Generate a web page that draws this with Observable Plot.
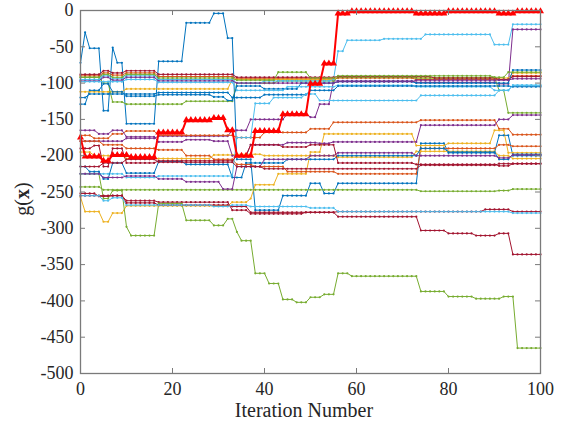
<!DOCTYPE html>
<html><head><meta charset="utf-8">
<script src="https://cdn.jsdelivr.net/npm/d3@7"></script>
<script src="https://cdn.jsdelivr.net/npm/@observablehq/plot@0.6"></script>
<style>body{margin:0;background:#fff}</style>
</head><body><div id="chart"></div>
<script>
// tick labels
const xTicks = [0, 20, 40, 60, 80, 100];
const yTicks = [-500, -450, -400, -350, -300, -250, -200, -150, -100, -50, 0];

// series as [iteration at which value starts, value] (value held until next entry)
const best     = [[0,-175],[1,-201],[5,-207],[7,-199],[11,-202],[17,-168],[23,-151],[29,-148],[32,-165],[34,-200],[38,-166],[44,-143],[50,-101],[53,-73],[56,-4],[59,-1],[73,-4],[80,-1],[91,-4],[95,-1]];
const blueA    = [[0,-72],[1,-30],[2,-52],[5,-138],[7,-51],[8,-72],[10,-156],[17,-70],[23,-17],[29,-4],[32,-38],[34,-205],[38,-275],[44,-255],[50,-238],[53,-252],[56,-238],[74,-183],[80,-196],[91,-172],[94,-200]];
const blueB    = [[0,-129],[2,-110],[5,-101],[7,-112],[10,-118],[17,-116],[29,-119],[32,-124],[34,-104],[40,-108],[48,-100],[56,-98],[73,-100],[94,-82]];
const blueC    = [[0,-120],[2,-115],[17,-113],[33,-120],[40,-116],[50,-110],[56,-104],[94,-105]];
const blueD    = [[0,-215],[2,-222],[5,-232],[7,-210],[10,-224],[17,-208],[23,-212],[33,-230],[36,-210],[45,-205],[56,-200],[74,-190],[80,-195],[91,-205],[94,-198]];
const lightA   = [[0,-95],[5,-90],[7,-94],[10,-90],[17,-95],[34,-100],[40,-97],[55,-95],[56,-56],[58,-41],[66,-39],[75,-33],[90,-47],[94,-19]];
const lightB   = [[0,-98],[10,-95],[17,-99],[34,-110],[45,-105],[56,-103],[73,-105],[90,-110],[94,-103]];
const lightC   = [[0,-225],[10,-230],[17,-228],[34,-175],[38,-128],[42,-120],[49,-115],[52,-124],[74,-117],[91,-110],[94,-103]];
const lightD   = [[0,-255],[5,-262],[7,-258],[10,-268],[29,-270],[33,-268],[37,-270],[50,-272],[56,-277],[94,-279]];
const purpleA  = [[0,-180],[10,-176],[17,-173],[33,-165],[37,-150],[45,-142],[50,-147],[52,-129],[55,-97],[73,-99],[91,-101],[94,-26]];
const purpleB  = [[0,-97],[5,-92],[7,-96],[10,-92],[17,-97],[34,-100],[56,-98],[73,-96],[94,-94]];
const purpleC  = [[0,-165],[4,-170],[7,-165],[10,-174],[17,-181],[23,-178],[29,-180],[33,-200],[37,-185],[45,-182],[52,-183],[55,-181],[74,-158],[91,-150],[94,-144]];
const purpleD  = [[0,-225],[5,-230],[10,-228],[17,-232],[23,-236],[31,-246],[34,-215],[40,-205],[50,-200],[56,-196],[73,-200],[91,-203],[94,-199]];
const dredA    = [[0,-88],[5,-83],[7,-86],[10,-83],[17,-88],[34,-92],[56,-91],[77,-93],[91,-95],[94,-91]];
const dredB    = [[0,-252],[4,-256],[7,-255],[10,-262],[17,-264],[33,-275],[37,-280],[49,-278],[56,-284],[74,-303],[80,-307],[86,-310],[91,-307],[94,-336]];
const dredC    = [[0,-255],[10,-265],[17,-268],[33,-270],[37,-278],[56,-277],[88,-274],[94,-277]];
const dredD    = [[0,-215],[5,-210],[10,-205],[17,-209],[34,-215],[40,-218],[56,-218],[74,-213],[91,-211]];
const dredE    = [[0,-190],[3,-186],[5,-215],[7,-190],[10,-210],[17,-207],[34,-200],[37,-185],[44,-188],[50,-185],[56,-210],[73,-212],[91,-214],[94,-211]];
const orangeA  = [[0,-90],[5,-86],[7,-89],[10,-86],[17,-91],[34,-94],[56,-93],[73,-95],[94,-90]];
const orangeB  = [[0,-172],[3,-176],[7,-170],[10,-166],[17,-172],[34,-175],[40,-168],[50,-163],[55,-154],[74,-151],[91,-163],[94,-171]];
const orangeC  = [[0,-180],[5,-185],[10,-190],[17,-192],[23,-200],[29,-205],[34,-212],[38,-215],[45,-222],[56,-225],[74,-190],[91,-185],[94,-187]];
const yellowA  = [[0,-112],[10,-108],[33,-95],[56,-92],[73,-93],[94,-86]];
const yellowB  = [[0,-257],[1,-277],[5,-291],[7,-279],[10,-269],[33,-264],[37,-259],[38,-240],[43,-225],[50,-195],[53,-170],[73,-186],[80,-183],[90,-165],[93,-196]];
const yellowC  = [[0,-195],[3,-200],[10,-204],[29,-199],[34,-198],[40,-200],[56,-202],[73,-194],[91,-200],[94,-204]];
const greenA   = [[0,-92],[5,-100],[7,-126],[10,-129],[23,-125],[34,-100],[43,-97],[56,-92],[73,-93],[90,-92],[91,-110],[93,-141]];
const greenB   = [[0,-243],[5,-247],[74,-249],[91,-248],[94,-246]];
const greenC   = [[0,-225],[5,-259],[7,-248],[10,-298],[11,-310],[17,-266],[23,-289],[29,-296],[32,-287],[34,-305],[35,-317],[38,-362],[41,-376],[44,-398],[47,-402],[50,-395],[53,-391],[56,-362],[59,-366],[74,-387],[80,-394],[86,-397],[92,-394],[95,-465]];
const greenD   = [[0,-92],[5,-88],[7,-92],[10,-88],[17,-93],[34,-96],[43,-85],[50,-93],[56,-90],[90,-92],[93,-85]];

const palette = {blue:"#0072BD", orange:"#D95319", yellow:"#EDB120", purple:"#7E2F8E", green:"#77AC30", light:"#4DBEEE", dred:"#A2142F"};

const seriesList = [
  ["blueA", blueA, palette.blue], ["orangeA", orangeA, palette.orange], ["yellowA", yellowA, palette.yellow],
  ["purpleA", purpleA, palette.purple], ["greenA", greenA, palette.green], ["lightA", lightA, palette.light],
  ["dredA", dredA, palette.dred], ["blueB", blueB, palette.blue], ["orangeB", orangeB, palette.orange],
  ["yellowB", yellowB, palette.yellow], ["purpleB", purpleB, palette.purple], ["greenB", greenB, palette.green],
  ["lightB", lightB, palette.light], ["dredB", dredB, palette.dred], ["blueC", blueC, palette.blue],
  ["orangeC", orangeC, palette.orange], ["yellowC", yellowC, palette.yellow], ["purpleC", purpleC, palette.purple],
  ["greenC", greenC, palette.green], ["lightC", lightC, palette.light], ["dredC", dredC, palette.dred],
  ["blueD", blueD, palette.blue], ["purpleD", purpleD, palette.purple], ["greenD", greenD, palette.green],
  ["lightD", lightD, palette.light], ["dredD", dredD, palette.dred], ["dredE", dredE, palette.dred]
];

function expand(bp) {
  const out = []; let k = 0;
  for (let i = 0; i <= 100; i++) {
    while (k + 1 < bp.length && bp[k + 1][0] <= i) k++;
    out.push({x: i, y: bp[k][1]});
  }
  return out;
}

const rows = seriesList.flatMap(([name, bp, color]) => expand(bp).map(d => ({...d, series: name, color})));
const bestRows = expand(best);

const chart = Plot.plot({
  width: 571, height: 425,
  marginLeft: 80, marginRight: 31, marginTop: 10, marginBottom: 52,
  style: {fontFamily: "'Liberation Serif', 'Times New Roman', serif", fontSize: "18px", color: "#262626", background: "#fff"},
  x: {domain: [0, 100]},
  y: {domain: [-500, 0]},
  color: {type: "identity"},
  marks: [
    Plot.line(rows, {x: "x", y: "y", z: "series", stroke: "color", strokeWidth: 1}),
    Plot.dot(rows, {x: "x", y: "y", fill: "color", r: 1.1}),
    Plot.line(bestRows, {x: "x", y: "y", stroke: "#FF0000", strokeWidth: 2}),
    Plot.dot(bestRows, {x: "x", y: "y", symbol: "triangle", fill: "#FF0000", r: 2.6}),
    Plot.frame({stroke: "#7a7a7a", strokeWidth: 1.3}),
    Plot.tickX(xTicks, {x: d => d, insetTop: 358, stroke: "#7a7a7a"}),
    Plot.tickX(xTicks, {x: d => d, insetBottom: 358, stroke: "#7a7a7a"}),
    Plot.tickY(yTicks, {y: d => d, insetRight: 455, stroke: "#7a7a7a"}),
    Plot.tickY(yTicks, {y: d => d, insetLeft: 455, stroke: "#7a7a7a"}),
    Plot.axisX(xTicks, {tickSize: 0, tickPadding: 9, tickFormat: d => String(d), label: null}),
    Plot.axisY(yTicks, {tickSize: 0, tickPadding: 7, tickFormat: d => String(d), label: null})
  ]
});

const svg = d3.select(chart);
const yl = svg.append("text")
  .attr("transform", "translate(29,199) rotate(-90)")
  .attr("text-anchor", "middle")
  .attr("font-size", 20)
  .attr("fill", "#262626");
yl.append("tspan").text("g(");
yl.append("tspan").attr("font-weight", "bold").text("x");
yl.append("tspan").text(")");
svg.append("text")
  .attr("x", 304).attr("y", 417)
  .attr("text-anchor", "middle")
  .attr("font-size", 20)
  .attr("fill", "#262626")
  .text("Iteration Number");

document.getElementById("chart").appendChild(chart);
</script>
</body></html>
